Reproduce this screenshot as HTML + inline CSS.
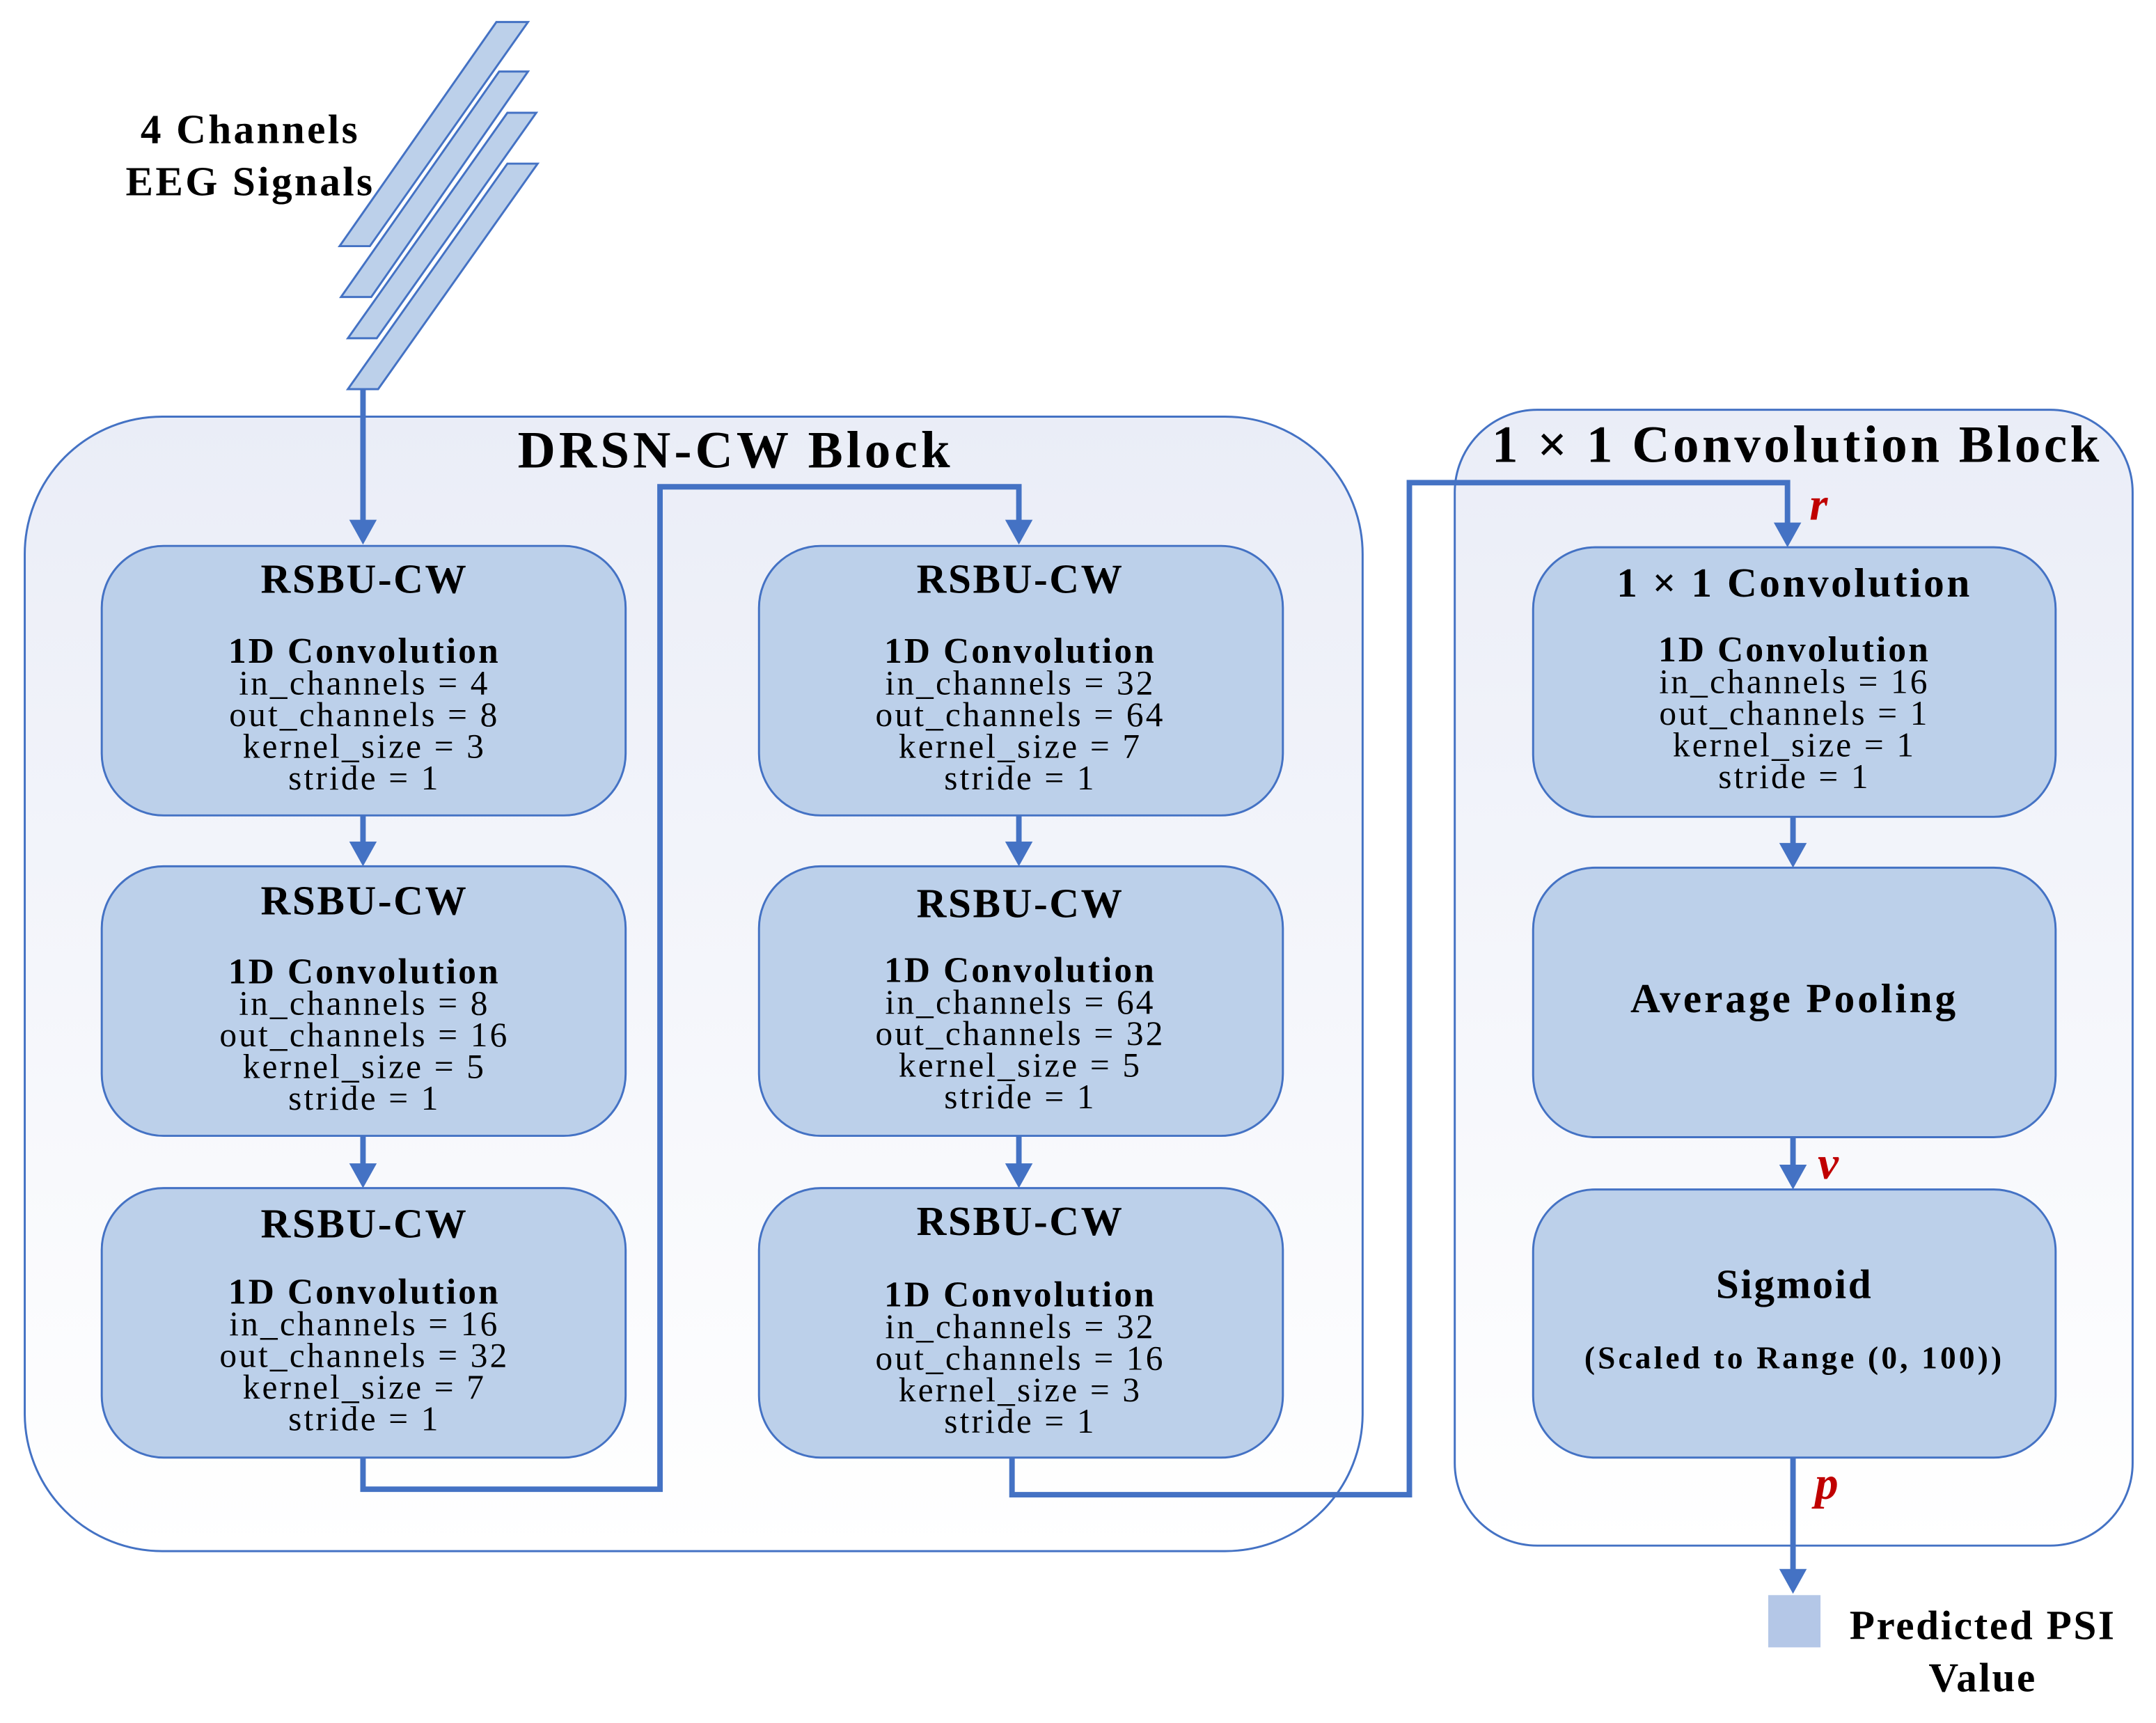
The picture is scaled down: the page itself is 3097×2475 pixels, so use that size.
<!DOCTYPE html>
<html><head><meta charset="utf-8"><style>html,body{margin:0;padding:0;background:#fff}svg{display:block}</style></head>
<body>
<svg width="3097" height="2475" viewBox="0 0 1568 1253" preserveAspectRatio="none" xmlns="http://www.w3.org/2000/svg" font-family="'Liberation Serif', serif">
<defs>
<linearGradient id="g" x1="0" y1="0" x2="0" y2="1"><stop offset="0" stop-color="#eaedf7"/><stop offset="1" stop-color="#ffffff"/></linearGradient>
</defs>
<g fill="#bcd0ea" stroke="#4472c4" stroke-width="1.5">
<polygon points="361,16 384,16 269,179 247,179"/>
<polygon points="363,52 384,52 270,216 248,216"/>
<polygon points="369,82 390,82 274,246 253,246"/>
<polygon points="369,119 391,119 275,283 253,283"/>
</g>
<g font-weight="bold" font-size="30" text-anchor="middle" fill="#000" letter-spacing="1.7">
<text x="182" y="104">4 Channels</text><text x="182" y="142">EEG Signals</text>
</g>
<rect x="18" y="303" width="973" height="825" rx="100" fill="url(#g)" stroke="#4472c4" stroke-width="1.5"/>
<rect x="1058" y="298" width="493" height="826" rx="60" fill="url(#g)" stroke="#4472c4" stroke-width="1.5"/>
<text x="535" y="340" font-size="38" font-weight="bold" text-anchor="middle" letter-spacing="2.6">DRSN-CW Block</text>
<text x="1307" y="336" font-size="38" font-weight="bold" text-anchor="middle" letter-spacing="2.3">1 × 1 Convolution Block</text>
<g fill="none" stroke="#4472c4" stroke-width="4">
<polyline points="264,1060 264,1083 480,1083 480,354 741,354 741,380"/>
<polyline points="736,1060 736,1087 1025,1087 1025,351 1300,351 1300,383"/>
<line x1="264" y1="283" x2="264" y2="380"/>
<line x1="264" y1="593" x2="264" y2="615"/>
<line x1="264" y1="826" x2="264" y2="849"/>
<line x1="741" y1="593" x2="741" y2="615"/>
<line x1="741" y1="826" x2="741" y2="849"/>
<line x1="1304" y1="594" x2="1304" y2="616"/>
<line x1="1304" y1="827" x2="1304" y2="850"/>
<line x1="1304" y1="1060" x2="1304" y2="1144"/>
</g>
<g fill="#4472c4">
<path d="M254,378 L274,378 L264,396z"/>
<path d="M731,378 L751,378 L741,396z"/>
<path d="M1290,380 L1310,380 L1300,398z"/>
<path d="M254,612 L274,612 L264,630z"/><path d="M254,846 L274,846 L264,864z"/>
<path d="M731,612 L751,612 L741,630z"/><path d="M731,846 L751,846 L741,864z"/>
<path d="M1294,613 L1314,613 L1304,631z"/><path d="M1294,847 L1314,847 L1304,865z"/>
<path d="M1294,1141 L1314,1141 L1304,1159z"/>
</g>
<g fill="#bcd0ea" stroke="#4472c4" stroke-width="1.5">
<rect x="74" y="397" width="381" height="196" rx="45"/><rect x="74" y="630" width="381" height="196" rx="45"/><rect x="74" y="864" width="381" height="196" rx="45"/>
<rect x="552" y="397" width="381" height="196" rx="45"/><rect x="552" y="630" width="381" height="196" rx="45"/><rect x="552" y="864" width="381" height="196" rx="45"/>
<rect x="1115" y="398" width="380" height="196" rx="45"/><rect x="1115" y="631" width="380" height="196" rx="45"/><rect x="1115" y="865" width="380" height="195" rx="45"/>
</g>
<rect x="1286" y="1160" width="38" height="38" fill="#b4c7e7"/>
<g text-anchor="middle" fill="#000">
<g font-size="30" font-weight="bold" letter-spacing="1.3">
<text x="265" y="431">RSBU-CW</text><text x="265" y="665">RSBU-CW</text><text x="265" y="900">RSBU-CW</text>
<text x="742" y="431">RSBU-CW</text><text x="742" y="667">RSBU-CW</text><text x="742" y="898">RSBU-CW</text>
<text x="1305" y="434" letter-spacing="1.8">1 × 1 Convolution</text>
<text x="1305" y="736" letter-spacing="2">Average Pooling</text>
<text x="1305" y="944">Sigmoid</text>
<text x="1442" y="1192">Predicted PSI</text><text x="1442" y="1230">Value</text>
</g>
<g font-size="26" font-weight="bold" letter-spacing="1.6">
<text x="265" y="482">1D Convolution</text><text x="265" y="715">1D Convolution</text><text x="265" y="948">1D Convolution</text>
<text x="742" y="482">1D Convolution</text><text x="742" y="714">1D Convolution</text><text x="742" y="950">1D Convolution</text>
<text x="1305" y="481">1D Convolution</text>
<text x="1305" y="995" font-size="23" letter-spacing="2.1">(Scaled to Range (0, 100))</text>
</g>
<g font-size="25" letter-spacing="1.6">
<text x="265" y="505">in_channels = 4</text><text x="265" y="528">out_channels = 8</text><text x="265" y="551">kernel_size = 3</text><text x="265" y="574">stride = 1</text>
<text x="265" y="738">in_channels = 8</text><text x="265" y="761">out_channels = 16</text><text x="265" y="784">kernel_size = 5</text><text x="265" y="807">stride = 1</text>
<text x="265" y="971">in_channels = 16</text><text x="265" y="994">out_channels = 32</text><text x="265" y="1017">kernel_size = 7</text><text x="265" y="1040">stride = 1</text>
<text x="742" y="505">in_channels = 32</text><text x="742" y="528">out_channels = 64</text><text x="742" y="551">kernel_size = 7</text><text x="742" y="574">stride = 1</text>
<text x="742" y="737">in_channels = 64</text><text x="742" y="760">out_channels = 32</text><text x="742" y="783">kernel_size = 5</text><text x="742" y="806">stride = 1</text>
<text x="742" y="973">in_channels = 32</text><text x="742" y="996">out_channels = 16</text><text x="742" y="1019">kernel_size = 3</text><text x="742" y="1042">stride = 1</text>
<text x="1305" y="504">in_channels = 16</text><text x="1305" y="527">out_channels = 1</text><text x="1305" y="550">kernel_size = 1</text><text x="1305" y="573">stride = 1</text>
</g>
</g>
<g fill="#c00000" font-style="italic" font-weight="bold" font-size="34">
<text x="1316" y="378">r</text><text x="1322" y="857">v</text><text x="1320" y="1090">p</text>
</g>
</svg>
</body></html>
